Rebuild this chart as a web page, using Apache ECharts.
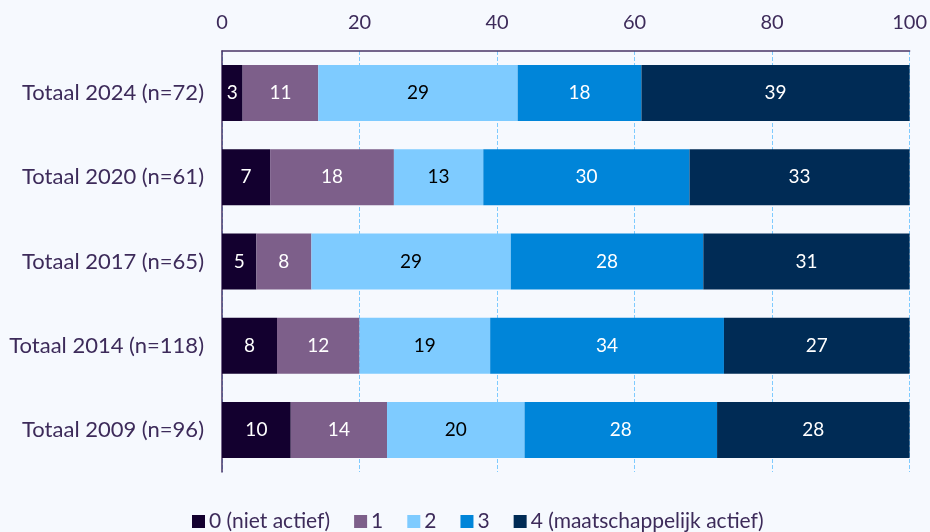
<!DOCTYPE html>
<html>
<head>
<meta charset="utf-8">
<script src="https://cdn.jsdelivr.net/npm/echarts@6/dist/echarts.min.js"></script>
<style>
  html, body { margin: 0; padding: 0; background: #f6f9fe; }
  #chart { width: 930px; height: 532px; }
</style>
</head>
<body>
<div id="chart"></div>
<script>
const categories = [
  "Totaal 2024 (n=72)",
  "Totaal 2020 (n=61)",
  "Totaal 2017 (n=65)",
  "Totaal 2014 (n=118)",
  "Totaal 2009 (n=96)",
];
const seriesNames = ["0 (niet actief)", "1", "2", "3", "4 (maatschappelijk actief)"];
const niet = [3, 7, 5, 8, 10];
const een = [11, 18, 8, 12, 14];
const twee = [29, 13, 29, 19, 20];
const drie = [18, 30, 28, 34, 28];
const maat = [39, 33, 31, 27, 28];
const xTicks = [0, 20, 40, 60, 80, 100];

const colors = ["#13002f", "#7d5f8a", "#7ecbff", "#0085d9", "#002b55"];
const labelColors = ["#ffffff", "#ffffff", "#000000", "#ffffff", "#ffffff"];
const textColor = "#3d2b5a";

const chart = echarts.init(document.getElementById("chart"));

const values = [niet, een, twee, drie, maat];

chart.setOption({
  backgroundColor: "#f6f9fe",
  textStyle: { fontFamily: "Lato" },
  grid: { left: 222, right: 20, top: 51, bottom: 60 },
  legend: {
    top: 506,
    left: 187,
    itemWidth: 13,
    itemHeight: 13,
    itemGap: 24,
    icon: "rect",
    textStyle: { color: textColor, fontSize: 21, fontFamily: "Lato", padding: [0, 0, 0, -1] },
    data: seriesNames,
  },
  xAxis: {
    type: "value",
    position: "top",
    min: xTicks[0],
    max: xTicks[xTicks.length - 1],
    interval: 20,
    axisLine: { show: true, lineStyle: { color: "#4a3566", width: 1.5 } },
    axisTick: { show: false },
    axisLabel: { color: textColor, fontSize: 20, margin: 18 },
    splitLine: { show: true, lineStyle: { color: "#7ecbff", type: "dashed", width: 1 } },
  },
  yAxis: {
    type: "category",
    inverse: true,
    data: categories,
    axisLine: { show: true, lineStyle: { color: "#4a3566", width: 1.5 } },
    axisTick: { show: false },
    axisLabel: { color: textColor, fontSize: 22, margin: 18 },
  },
  series: values.map((arr, i) => ({
    name: seriesNames[i],
    type: "bar",
    stack: "total",
    barWidth: 56,
    data: arr,
    itemStyle: { color: colors[i] },
    label: {
      show: true,
      position: "inside",
      color: labelColors[i],
      fontSize: 19,
      fontFamily: "Lato",
    },
    emphasis: { disabled: true },
  })),
});
</script>
</body>
</html>
